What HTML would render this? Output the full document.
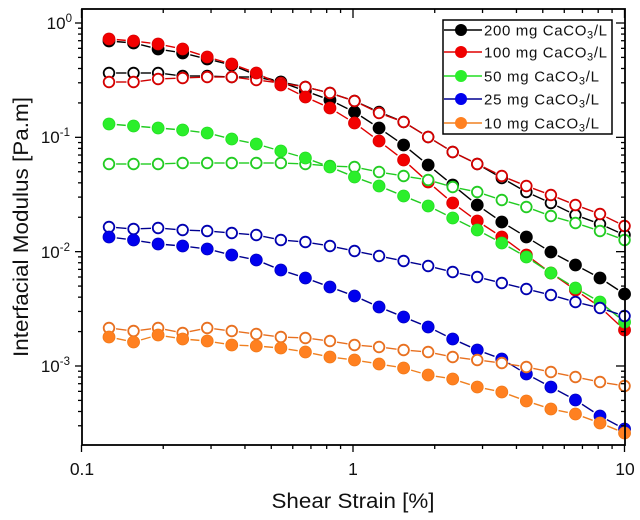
<!DOCTYPE html>
<html>
<head>
<meta charset="utf-8">
<style>
  html,body{margin:0;padding:0;background:#fff;}
  body{width:640px;height:520px;overflow:hidden;}
  svg{display:block;font-family:"Liberation Sans",Arial,sans-serif;}
</style>
</head>
<body>
<svg id="chart" width="640" height="520" viewBox="0 0 640 520" xmlns="http://www.w3.org/2000/svg">
  <rect x="0" y="0" width="640" height="520" fill="#fff"/>
  <g id="data"></g>
  <g id="ticks" stroke="#000" stroke-width="1.3"></g>
  <rect x="82" y="9" width="543" height="436" fill="none" stroke="#000" stroke-width="1.8"/>

  <!-- Y tick labels -->
  <g font-size="17" fill="#111" text-anchor="end">
    <text x="72" y="29">10<tspan font-size="11.5" dy="-7">0</tspan></text>
    <text x="70" y="143">10<tspan font-size="11.5" dy="-7">-1</tspan></text>
    <text x="70" y="258">10<tspan font-size="11.5" dy="-7">-2</tspan></text>
    <text x="70" y="372">10<tspan font-size="11.5" dy="-7">-3</tspan></text>
  </g>
  <!-- X tick labels -->
  <g font-size="17.5" fill="#111" text-anchor="middle">
    <text x="82" y="475">0.1</text>
    <text x="353" y="475">1</text>
    <text x="625" y="475">10</text>
  </g>
  <!-- Axis titles -->
  <text x="353" y="508" font-size="21" text-anchor="middle" fill="#111" textLength="163" lengthAdjust="spacingAndGlyphs">Shear Strain [%]</text>
  <text transform="translate(28,227) rotate(-90)" font-size="21.5" text-anchor="middle" fill="#111" textLength="260" lengthAdjust="spacingAndGlyphs">Interfacial Modulus [Pa.m]</text>

  <!-- Legend -->
  <rect x="443" y="20" width="169" height="114" fill="#fff" stroke="#000" stroke-width="1.5"/>
  <g stroke-width="1.4">
    <line x1="444" y1="30" x2="482" y2="30" stroke="#000"/>
    <circle cx="461" cy="30" r="6" fill="#000"/>
    <line x1="444" y1="52" x2="482" y2="52" stroke="#e00000"/>
    <circle cx="461" cy="52" r="6" fill="#f00000"/>
    <line x1="444" y1="76" x2="482" y2="76" stroke="#22dd22"/>
    <circle cx="461" cy="76" r="6" fill="#2bef2b"/>
    <line x1="444" y1="99" x2="482" y2="99" stroke="#000090"/>
    <circle cx="461" cy="99" r="6" fill="#0000ee"/>
    <line x1="444" y1="123" x2="482" y2="123" stroke="#f08020"/>
    <circle cx="461" cy="123" r="6" fill="#ff8020"/>
  </g>
  <g font-size="15" fill="#111">
    <text x="484" y="35.5" textLength="123" lengthAdjust="spacing">200  mg CaCO<tspan font-size="11" dy="3">3</tspan><tspan dy="-3">/L</tspan></text>
    <text x="484" y="57.5" textLength="123" lengthAdjust="spacing">100  mg CaCO<tspan font-size="11" dy="3">3</tspan><tspan dy="-3">/L</tspan></text>
    <text x="484" y="81.5" textLength="115" lengthAdjust="spacing">50  mg CaCO<tspan font-size="11" dy="3">3</tspan><tspan dy="-3">/L</tspan></text>
    <text x="484" y="104.5" textLength="115" lengthAdjust="spacing">25  mg CaCO<tspan font-size="11" dy="3">3</tspan><tspan dy="-3">/L</tspan></text>
    <text x="484" y="128.5" textLength="115" lengthAdjust="spacing">10  mg CaCO<tspan font-size="11" dy="3">3</tspan><tspan dy="-3">/L</tspan></text>
  </g>
</svg>
<script>
(function(){
  var NS="http://www.w3.org/2000/svg";
  function el(tag,attrs,parent){var e=document.createElementNS(NS,tag);for(var k in attrs)e.setAttribute(k,attrs[k]);parent.appendChild(e);return e;}
  var ticks=document.getElementById('ticks');
  function yPix(v){return 23-114.33*Math.log10(v);}
  function xPix(v){return 353+271.5*Math.log10(v);}
  // Y ticks
  for(var n=-4;n<=0;n++){
    for(var k=1;k<=9;k++){
      var v=k*Math.pow(10,n), y=yPix(v);
      if(y<9.5||y>444.5)continue;
      var maj=(k===1);
      el('line',{x1:82-(maj?7:4),y1:y,x2:82,y2:y},ticks);
      el('line',{x1:625,y1:y,x2:625-(maj?9:4),y2:y},ticks);
    }
  }
  // X ticks
  for(var n=-1;n<=1;n++){
    for(var k=1;k<=9;k++){
      var v=k*Math.pow(10,n), x=xPix(v);
      if(x<81.5||x>625.5)continue;
      var maj=(k===1);
      el('line',{x1:x,y1:445,x2:x,y2:445+(maj?7:4)},ticks);
      el('line',{x1:x,y1:9,x2:x,y2:9+(maj?9:4)},ticks);
    }
  }
  var data=document.getElementById('data');
  var X=[];for(var i=0;i<22;i++)X.push(109+i*24.55);
  var series=[
    {y:[73,73,73,76,76,77,77,82,87,93,101,112,122,137,152,164,178,192,203,215,224,235],open:true,line:'#000',stroke:'#000'},
    {y:[41,43,49,53,59,65,75,82,91,100,112,128,145,165,185,205,222,237,252,265,278,294],open:false,line:'#000',fill:'#000',stroke:'#000'},
    {y:[82,82,79,78,77,77,80,83,87,93,101,113,122,137,152,164,176,186,195,205,214,226],open:true,line:'#d00000',stroke:'#d40000'},
    {y:[39,41,44,49,57,64,73,85,97,108,123,141,160,182,203,221,237,255,273,290,307,330],open:false,line:'#e00000',fill:'#f20000',stroke:'#d80000'},
    {y:[164,164,164,163,163,163,163,163,164,166,167,172,176,180,187,192,200,207,216,223,231,240],open:true,line:'#22cc22',stroke:'#22cc22'},
    {y:[124,126,128,130,133,139,144,151,158,167,177,186,196,206,218,230,243,257,273,288,302,322],open:false,line:'#22cc22',fill:'#2bef2b',stroke:'#22dd22'},
    {y:[227,229,228,230,231,233,235,240,242,246,251,256,261,266,272,277,283,289,295,302,308,316],open:true,line:'#000090',stroke:'#0000b0'},
    {y:[237,240,244,246,249,255,260,270,278,287,296,307,317,327,339,350,359,374,387,400,416,429],open:false,line:'#000090',fill:'#0000ee',stroke:'#0000c0'},
    {y:[328,331,328,333,328,331,334,337,338,341,345,347,350,352,357,360,363,367,372,377,382,386],open:true,line:'#e87020',stroke:'#e87020'},
    {y:[337,342,335,339,341,345,346,348,352,357,360,364,368,375,379,387,392,401,409,414,423,433],open:false,line:'#f08020',fill:'#ff8020',stroke:'#f07818'}
  ];
  series.forEach(function(s){
    var g=el('g',{},data);
    var r=s.open?5.3:6;
    var gap=r+1.8;
    for(var i=0;i<21;i++){
      var x1=X[i],y1=s.y[i],x2=X[i+1],y2=s.y[i+1];
      var dx=x2-x1,dy=y2-y1,L=Math.sqrt(dx*dx+dy*dy);
      if(L<=2*gap+1)continue;
      var ux=dx/L,uy=dy/L;
      el('line',{x1:x1+ux*gap,y1:y1+uy*gap,x2:x2-ux*gap,y2:y2-uy*gap,stroke:s.line,'stroke-width':1.4},g);
    }
    for(var i=0;i<22;i++){
      if(s.open) el('circle',{cx:X[i],cy:s.y[i],r:r,fill:'#fff',stroke:s.stroke,'stroke-width':1.8},g);
      else el('circle',{cx:X[i],cy:s.y[i],r:r,fill:s.fill,stroke:s.stroke,'stroke-width':0.8},g);
    }
  });
})();
</script>
</body>
</html>
